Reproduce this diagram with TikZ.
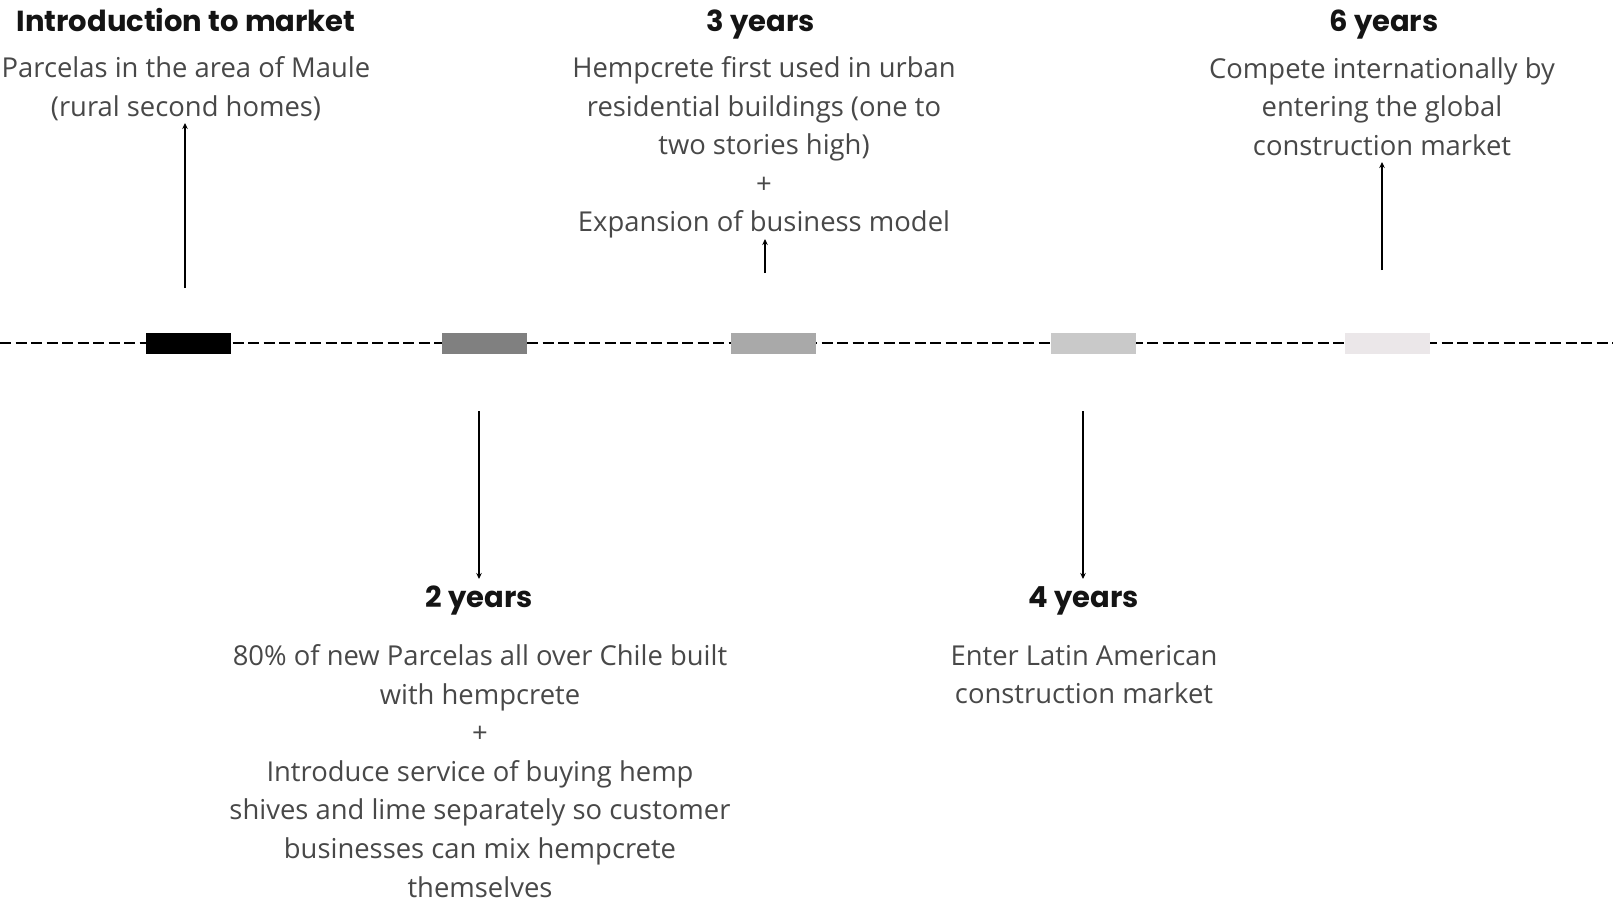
\documentclass[tikz,border=0pt]{standalone}
\usepackage{fontspec}
\setmainfont{Open Sans}
\newfontfamily\headfont{Poppins}
\usetikzlibrary{arrows.meta}

\definecolor{barA}{HTML}{000000}
\definecolor{barB}{HTML}{808080}
\definecolor{barC}{HTML}{A9A9A9}
\definecolor{barD}{HTML}{C9C9C9}
\definecolor{barE}{HTML}{EBE7E9}
\definecolor{bodytext}{HTML}{484848}

\tikzset{
  bar/.style={draw=none, minimum width=85pt, minimum height=21pt, inner sep=0pt},
  heading/.style={font=\headfont\bfseries\fontsize{29}{33}\selectfont, text=black!92, inner sep=0pt, align=center, anchor=base},
  body/.style={font=\fontsize{27.4}{38.6}\selectfont, text=bodytext, inner sep=0pt, align=center},
  timeline/.style={line width=2.4pt, dash pattern=on 11pt off 4.5pt},
  arr/.style={line width=1.4pt, -{Stealth[length=6pt,width=5.5pt]}}
}

\begin{document}
\begin{tikzpicture}[x=1pt, y=-1pt]
  \useasboundingbox[fill=white] (0,0) rectangle (1613,904);

  % timeline
  \coordinate (L) at (0,343);
  \coordinate (R) at (1613,343);
  \draw[timeline] (L) -- (R);

  % milestone bars
  \node[bar, fill=barA] (b1) at (188.5,343) {};
  \node[bar, fill=barB] (b2) at (484,343) {};
  \node[bar, fill=barC] (b3) at (773,343) {};
  \node[bar, fill=barD] (b4) at (1093.5,343) {};
  \node[bar, fill=barE] (b5) at (1387.5,343) {};

  % upper milestones
  \node[heading] (h1) at (186,31.5) {Introduction to market};
  \node[body] (t1) at (186,88.5) {Parcelas in the area of Maule\\(rural second homes)};

  \node[heading] (h3) at (761,31.5) {3 years};
  \node[body] (t3) at (764,147.5) {Hempcrete first used in urban\\residential buildings (one to\\two stories high)\\+\\Expansion of business model};

  \node[heading] (h6) at (1384,31.5) {6 years};
  \node[body] (t6) at (1382,106.5) {Compete internationally by\\entering the global\\construction market};

  % lower milestones
  \node[heading] (h2) at (479,607.5) {2 years};
  \node[body] (t2) at (480,771) {80\% of new Parcelas all over Chile built\\with hempcrete\\+\\Introduce service of buying hemp\\shives and lime separately so customer\\businesses can mix hempcrete\\themselves};

  \node[heading] (h4) at (1084,607.5) {4 years};
  \node[body] (t4) at (1084,674.5) {Enter Latin American\\construction market};

  % connectors: start points near the timeline, tips just clear of the text
  \coordinate (s1) at (185,288);
  \coordinate (e1) at (185,123);
  \coordinate (s3) at (765,273);
  \coordinate (e3) at (765,239);
  \coordinate (s6) at (1382,270);
  \coordinate (e6) at (1382,162);
  \coordinate (s2) at (479,411);
  \coordinate (e2) at (479,579);
  \coordinate (s4) at (1083,411);
  \coordinate (e4) at (1083,579);

  \draw[arr] (s1) -- (e1);
  \draw[arr] (s3) -- (e3);
  \draw[arr] (s6) -- (e6);
  \draw[arr] (s2) -- (e2);
  \draw[arr] (s4) -- (e4);
\end{tikzpicture}
\end{document}
